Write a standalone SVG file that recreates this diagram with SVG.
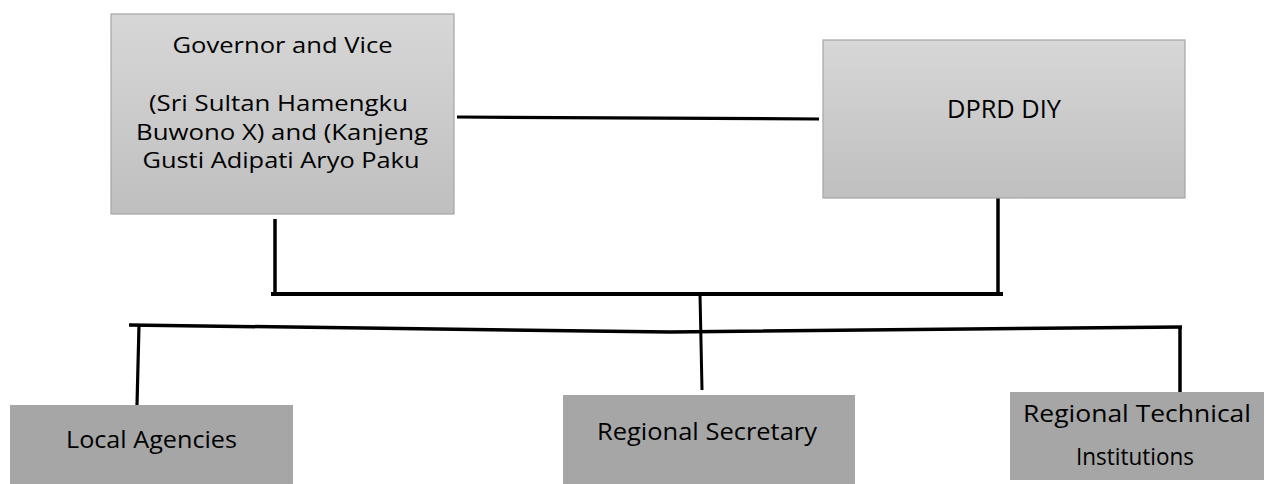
<svg xmlns="http://www.w3.org/2000/svg" width="1265" height="484" viewBox="0 0 1265 484">
<style>
.t{font-family:"Open Sans","Liberation Sans",sans-serif;fill:#000;text-anchor:middle}
.top{fill:url(#g);stroke:#a5a5a5;stroke-width:1.2}
.bot{fill:#a6a6a6}
.c{stroke:#000;fill:none;stroke-linecap:butt;stroke-linejoin:miter}
</style>
<defs>
<linearGradient id="g" x1="0" y1="0" x2="0" y2="1">
<stop offset="0" stop-color="#d7d7d7"/>
<stop offset="1" stop-color="#bfbfbf"/>
</linearGradient>
</defs>
<rect width="1265" height="484" fill="#fff"/>
<g id="connectors">
<path class="c" stroke-width="3.2" d="M457 117 L819 119"/>
<path class="c" stroke-width="3.5" d="M275 219 V296"/>
<path class="c" stroke-width="3.5" d="M998 197 V296"/>
<path class="c" stroke-width="4" d="M271 294 H1003"/>
<path class="c" stroke-width="3" d="M700 294 L702 390"/>
<path class="c" stroke-width="3.5" d="M129 325 L670 332 L1182 327"/>
<path class="c" stroke-width="3.2" d="M139 325 L137 405"/>
<path class="c" stroke-width="3.5" d="M1180 327 V392"/>
</g>
<g id="governor">
<rect class="top" x="111" y="14" width="343" height="200"/>
<text class="t" font-size="21" x="282.5" y="53" textLength="220" lengthAdjust="spacingAndGlyphs">Governor and Vice</text>
<text class="t" font-size="21" x="278.5" y="111" textLength="259" lengthAdjust="spacingAndGlyphs">(Sri Sultan Hamengku</text>
<text class="t" font-size="21" x="282" y="139.5" textLength="292" lengthAdjust="spacingAndGlyphs">Buwono X) and (Kanjeng</text>
<text class="t" font-size="21" x="281" y="168" textLength="277" lengthAdjust="spacingAndGlyphs">Gusti Adipati Aryo Paku</text>
</g>
<g id="dprd">
<rect class="top" x="823" y="40" width="362" height="158"/>
<text class="t" font-size="25" x="1004" y="118" textLength="114" lengthAdjust="spacingAndGlyphs">DPRD DIY</text>
</g>
<g id="local-agencies">
<rect class="bot" x="10" y="405" width="283" height="79"/>
<text class="t" font-size="24" x="151.5" y="448" textLength="171" lengthAdjust="spacingAndGlyphs">Local Agencies</text>
</g>
<g id="regional-secretary">
<rect class="bot" x="563" y="395" width="292" height="89"/>
<text class="t" font-size="23" x="707" y="440" textLength="220" lengthAdjust="spacingAndGlyphs">Regional Secretary</text>
</g>
<g id="regional-technical">
<rect class="bot" x="1010" y="392" width="254" height="88"/>
<text class="t" font-size="23" x="1137" y="422" textLength="228" lengthAdjust="spacingAndGlyphs">Regional Technical</text>
<text class="t" font-size="23" x="1135" y="465" textLength="118" lengthAdjust="spacingAndGlyphs">Institutions</text>
</g>
</svg>
